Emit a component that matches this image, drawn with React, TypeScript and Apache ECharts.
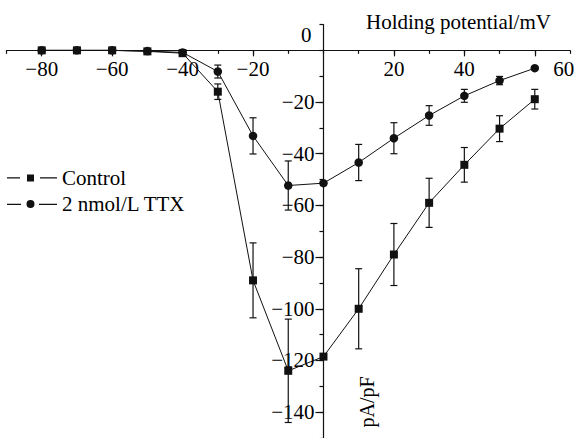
import React, { useEffect, useRef } from "react";
import * as echarts from "echarts";

const voltages = [-80, -70, -60, -50, -40, -30, -20, -10, 0, 10, 20, 30, 40, 50, 60];
const controlMean = [0, 0, 0, -0.4, -1.1, -16, -89, -124, -118.5, -100, -79, -59, -44.3, -30.3, -18.9];
const controlErr = [0, 0, 0, 0, 0, 3, 14.5, 20, 0, 15.5, 12, 9.5, 6.7, 5, 3.8];
const ttxMean = [0, 0, 0, -0.3, -0.8, -8.2, -33.1, -52.3, -51.4, -43.4, -34, -25.2, -17.6, -11.7, -6.9];
const ttxErr = [0, 0, 0, 0, 0, 2.5, 7, 9.5, 0, 7, 6, 3.8, 2.5, 1.6, 0];

const xMajorTicks = [-80, -60, -40, -20, 20, 40, 60];
const yMajorTicks = [-140, -120, -100, -80, -60, -40, -20];

const FONT = "Liberation Serif";
const INK = "#111";
const MINUS = "\u2212";

const iconControl = "path://M0,4.2H13V5.6H0Z M20,1.5H27V8.5H20Z M33,4.2H50V5.6H33Z";
const iconTTX =
  "path://M0,4.2H14V5.6H0Z M27.5,4.5A4,4 0 1,1 19.5,4.5A4,4 0 1,1 27.5,4.5Z M32,4.2H50V5.6H32Z";

// grid geometry (pixels)
const G_LEFT = 6.5;
const G_RIGHT = 4;
const G_TOP = 24.5;
const G_BOTTOM = 0;
const X_MIN = -90;
const X_MAX = 70;
const Y_MIN = -150;
const Y_MAX = 10;

function errData(mean: number[], err: number[]) {
  const out: number[][] = [];
  voltages.forEach((v, i) => {
    if (err[i] > 0) out.push([v, mean[i] - err[i], mean[i] + err[i]]);
  });
  return out;
}

const errRender = (params: any, api: any) => {
  const x = api.value(0);
  const lo = api.value(1);
  const hi = api.value(2);
  const pTop = api.coord([x, hi]);
  const pBot = api.coord([x, lo]);
  const hw = 3.5;
  const style = { stroke: INK, lineWidth: 1.2 };
  return {
    type: "group",
    children: [
      { type: "line", shape: { x1: pTop[0], y1: pTop[1], x2: pBot[0], y2: pBot[1] }, style },
      { type: "line", shape: { x1: pTop[0] - hw, y1: pTop[1], x2: pTop[0] + hw, y2: pTop[1] }, style },
      { type: "line", shape: { x1: pBot[0] - hw, y1: pBot[1], x2: pBot[0] + hw, y2: pBot[1] }, style },
    ],
  };
};

export default function App() {
  const ref = useRef<HTMLDivElement>(null);
  useEffect(() => {
    if (!ref.current) return;
    const chart = echarts.init(ref.current, undefined, { renderer: "svg" });
    const W = 574;
    const H = 438;
    const gw = W - G_LEFT - G_RIGHT;
    const gh = H - G_TOP - G_BOTTOM;
    // offsets that move the axes onto the zero lines
    const xAxisOffset = -((Y_MAX - 0) / (Y_MAX - Y_MIN)) * gh;
    const yAxisOffset = -((0 - X_MIN) / (X_MAX - X_MIN)) * gw;
    const axisLineStyle = { color: INK, width: 1.2 };
    const textBase = { fontFamily: FONT, fontSize: 21, color: "#000" };
    chart.setOption({
      animation: false,
      backgroundColor: "#fff",
      textStyle: { fontFamily: FONT },
      grid: { left: G_LEFT, right: G_RIGHT, top: G_TOP, bottom: G_BOTTOM, containLabel: false, outerBoundsMode: "none" },
      legend: {
        orient: "vertical",
        left: 7,
        top: 167.5,
        padding: 0,
        itemGap: 5,
        itemWidth: 50,
        itemHeight: 9,
        textStyle: { ...textBase },
        data: [
          { name: "Control", icon: iconControl, itemStyle: { color: INK }, textStyle: { ...textBase } },
          { name: "2 nmol/L TTX", icon: iconTTX, itemStyle: { color: INK }, textStyle: { ...textBase } },
        ],
      },
      xAxis: [
        {
          type: "value",
          min: X_MIN,
          max: X_MAX,
          interval: 10,
          position: "top",
          offset: xAxisOffset,
          axisLine: { show: true, onZero: false, lineStyle: axisLineStyle },
          axisTick: { show: true, length: 3.5, inside: true, lineStyle: { color: INK, width: 1.2 } },
          splitLine: { show: false },
          axisLabel: {
            inside: true,
            margin: 8,
            ...textBase,
            formatter: (v: number) => {
              if (v === 60) return "{s|60}";
              if (v === 0 || v % 20 !== 0) return "";
              return v < 0 ? MINUS + Math.abs(v) : String(v);
            },
            rich: { s: { ...textBase, padding: [0, 0, 0, 58] } },
          },
        },
        {
          type: "value",
          min: X_MIN,
          max: X_MAX,
          interval: 10,
          position: "top",
          offset: xAxisOffset,
          axisLine: { show: false, onZero: false },
          axisTick: { show: true, length: 6, inside: true, customValues: xMajorTicks, lineStyle: { color: INK, width: 1.2 } },
          splitLine: { show: false },
          axisLabel: { show: false },
        },
      ],
      yAxis: [
        {
          type: "value",
          min: Y_MIN,
          max: Y_MAX,
          interval: 10,
          position: "left",
          offset: yAxisOffset,
          axisLine: { show: true, onZero: false, lineStyle: axisLineStyle },
          axisTick: { show: true, length: 4, inside: false, lineStyle: { color: INK, width: 1.2 } },
          splitLine: { show: false },
          axisLabel: {
            margin: 9,
            ...textBase,
            formatter: (v: number) => {
              if (v === 0) return "{z|0}";
              if (v % 20 !== 0 || v > 0) return "";
              return MINUS + Math.abs(v);
            },
            rich: { z: { ...textBase, padding: [0, 3, 30, 0] } },
          },
        },
        {
          type: "value",
          min: Y_MIN,
          max: Y_MAX,
          interval: 10,
          position: "left",
          offset: yAxisOffset,
          axisLine: { show: false, onZero: false },
          axisTick: { show: true, length: 8, inside: false, customValues: yMajorTicks, lineStyle: { color: INK, width: 1.2 } },
          splitLine: { show: false },
          axisLabel: { show: false },
        },
      ],
      graphic: [
        {
          type: "text",
          x: 366,
          y: 21.5,
          style: { text: "Holding potential/mV", font: `21px ${FONT}`, fill: "#000", textAlign: "left", textVerticalAlign: "middle" },
        },
        {
          type: "text",
          x: 367,
          y: 402,
          rotation: Math.PI / 2,
          style: { text: "pA/pF", font: `20px ${FONT}`, fill: "#000", textAlign: "center", textVerticalAlign: "middle" },
        },
      ],
      series: [
        {
          name: "Control err",
          type: "custom",
          xAxisIndex: 0,
          yAxisIndex: 0,
          renderItem: errRender,
          encode: { x: 0, y: [1, 2] },
          data: errData(controlMean, controlErr),
          z: 1,
        },
        {
          name: "TTX err",
          type: "custom",
          xAxisIndex: 0,
          yAxisIndex: 0,
          renderItem: errRender,
          encode: { x: 0, y: [1, 2] },
          data: errData(ttxMean, ttxErr),
          z: 1,
        },
        {
          name: "Control",
          type: "line",
          xAxisIndex: 0,
          yAxisIndex: 0,
          data: voltages.map((v, i) => [v, controlMean[i]]),
          symbol: "rect",
          symbolSize: 8,
          lineStyle: { color: INK, width: 1 },
          itemStyle: { color: INK },
          z: 3,
        },
        {
          name: "2 nmol/L TTX",
          type: "line",
          xAxisIndex: 0,
          yAxisIndex: 0,
          data: voltages.map((v, i) => [v, ttxMean[i]]),
          symbol: "circle",
          symbolSize: 8.5,
          lineStyle: { color: INK, width: 1 },
          itemStyle: { color: INK },
          z: 3,
        },
      ],
    });
    return () => chart.dispose();
  }, []);
  return (
    <div
      ref={ref}
      style={{ position: "fixed", left: 0, top: 0, width: 574, height: 438, background: "#fff" }}
    />
  );
}
